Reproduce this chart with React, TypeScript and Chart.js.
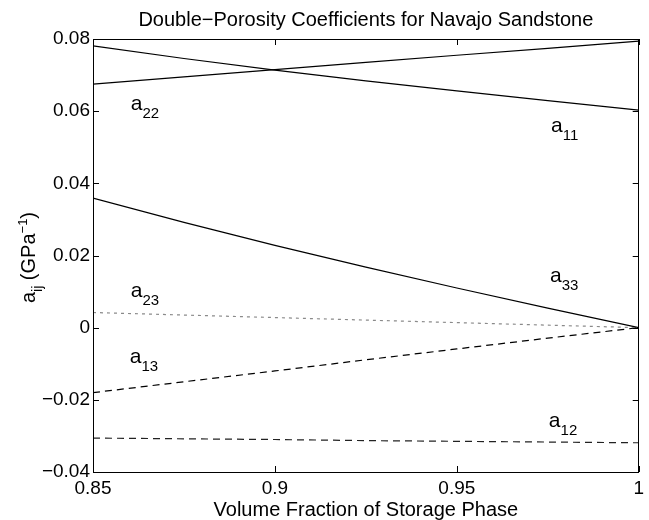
import React, { useEffect, useRef } from "react";
import { Chart, registerables } from "chart.js";

Chart.register(...registerables);

const FONT = "'Liberation Sans', Arial, Helvetica, sans-serif";

// ---- data ----
const xValues = [0.85, 0.875, 0.9, 0.925, 0.95, 0.975, 1.0];
const a11 = [0.0781, 0.0746, 0.0714, 0.0684, 0.0656, 0.0629, 0.0603];
const a22 = [0.0675, 0.0695, 0.0715, 0.0735, 0.0755, 0.0774, 0.0794];
const a33 = [0.0359, 0.0292, 0.0228, 0.0168, 0.011, 0.0054, 0.0];
const a23 = [0.0042, 0.0035, 0.0028, 0.0021, 0.0014, 0.0007, 0.0];
const a13 = [-0.018, -0.015, -0.012, -0.0089, -0.0059, -0.0029, 0.0];
const a12 = [-0.0306, -0.0308, -0.031, -0.0313, -0.0315, -0.0317, -0.0319];

const xTicks = [0.85, 0.9, 0.95, 1];
const xTickLabels = ["0.85", "0.9", "0.95", "1"];
const yTicks = [-0.04, -0.02, 0, 0.02, 0.04, 0.06, 0.08];
const yTickLabels = ["\u22120.04", "\u22120.02", "0", "0.02", "0.04", "0.06", "0.08"];

const titleText = "Double\u2212Porosity Coefficients for Navajo Sandstone";
const xTitleText = "Volume Fraction of Storage Phase";

// curve labels: subscript and anchor in data coordinates
const labelSubs = ["22", "11", "23", "33", "13", "12"];
const labelX = [0.8604, 0.9759, 0.8604, 0.9756, 0.8601, 0.9753];
const labelY = [0.0603, 0.0542, 0.0085, 0.0127, -0.0098, -0.0275];

type Seg = { t: string; size: number; dy: number };

function drawRich(ctx: CanvasRenderingContext2D, segs: Seg[], x: number, y: number, center: boolean) {
  const widths = segs.map((s) => {
    ctx.font = `${s.size}px ${FONT}`;
    return ctx.measureText(s.t).width;
  });
  const total = widths.reduce((a, b) => a + b, 0);
  let cx = center ? x - total / 2 : x;
  segs.forEach((s, i) => {
    ctx.font = `${s.size}px ${FONT}`;
    ctx.fillText(s.t, cx, y + s.dy);
    cx += widths[i];
  });
}

const decorPlugin = {
  id: "decor",
  afterDraw(chart: any) {
    const ctx: CanvasRenderingContext2D = chart.ctx;
    const { left, right, top, bottom } = chart.chartArea;
    const xs = chart.scales.x;
    const ys = chart.scales.y;
    ctx.save();
    ctx.strokeStyle = "#000";
    ctx.lineWidth = 1;
    ctx.strokeRect(Math.round(left) + 0.5, Math.round(top) + 0.5, Math.round(right - left) - 1, Math.round(bottom - top));
    const tl = 6;
    ctx.beginPath();
    xTicks.forEach((v) => {
      const px = Math.round(xs.getPixelForValue(v)) + 0.5;
      ctx.moveTo(px, bottom);
      ctx.lineTo(px, bottom - tl);
      ctx.moveTo(px, top);
      ctx.lineTo(px, top + tl);
    });
    yTicks.forEach((v) => {
      const py = Math.round(ys.getPixelForValue(v)) + 0.5;
      ctx.moveTo(left, py);
      ctx.lineTo(left + tl, py);
      ctx.moveTo(right, py);
      ctx.lineTo(right - tl, py);
    });
    ctx.stroke();

    ctx.fillStyle = "#000";
    ctx.textBaseline = "alphabetic";
    ctx.textAlign = "left";
    // chart title
    drawRich(ctx, [{ t: titleText, size: 20, dy: 0 }], (left + right) / 2, 26, true);

    // y-axis title
    ctx.save();
    ctx.translate(35, (top + bottom) / 2 + 2);
    ctx.rotate(-Math.PI / 2);
    drawRich(
      ctx,
      [
        { t: "a", size: 20, dy: 0 },
        { t: "ij", size: 14, dy: 7 },
        { t: " (GPa", size: 20, dy: 0 },
        { t: "\u22121", size: 13, dy: -8 },
        { t: ")", size: 20, dy: 0 },
      ],
      0,
      0,
      true
    );
    ctx.restore();

    // curve labels
    labelSubs.forEach((sub, i) => {
      const px = xs.getPixelForValue(labelX[i]);
      const py = ys.getPixelForValue(labelY[i]);
      drawRich(
        ctx,
        [
          { t: "a", size: 21, dy: 0 },
          { t: sub, size: 15, dy: 8 },
        ],
        px,
        py,
        false
      );
    });
    ctx.restore();
  },
};

function series(vals: number[]) {
  return xValues.map((x, i) => ({ x, y: vals[i] }));
}

export default function App() {
  const ref = useRef<HTMLCanvasElement | null>(null);
  useEffect(() => {
    if (!ref.current) return;
    const base = { pointRadius: 0, borderWidth: 1.2, fill: false, tension: 0 };
    const chart = new Chart(ref.current, {
      type: "line",
      data: {
        datasets: [
          { ...base, label: "a11", data: series(a11), borderColor: "#000" },
          { ...base, label: "a22", data: series(a22), borderColor: "#000" },
          { ...base, label: "a33", data: series(a33), borderColor: "#000" },
          { ...base, label: "a23", data: series(a23), borderColor: "#8a8a8a", borderDash: [3, 4] },
          { ...base, label: "a13", data: series(a13), borderColor: "#000", borderDash: [7, 5] },
          { ...base, label: "a12", data: series(a12), borderColor: "#222", borderDash: [7, 5] },
        ] as any,
      },
      options: {
        responsive: false,
        animation: false,
        devicePixelRatio: 1,
        layout: { padding: { top: 39, right: 9, left: 0, bottom: 0 } },
        plugins: { legend: { display: false }, tooltip: { enabled: false }, title: { display: false } },
        scales: {
          x: {
            type: "linear",
            min: 0.85,
            max: 1,
            grid: { display: false, drawTicks: false },
            border: { display: false },
            afterBuildTicks: (s: any) => {
              s.ticks = xTicks.map((value) => ({ value }));
            },
            afterFit: (s: any) => {
              s.height = 48;
            },
            ticks: {
              autoSkip: false,
              maxRotation: 0,
              padding: 5,
              color: "#000",
              font: { family: FONT, size: 19 },
              callback: (_v: any, i: number) => xTickLabels[i],
            },
            title: {
              display: true,
              text: xTitleText,
              color: "#000",
              font: { family: FONT, size: 20, lineHeight: 1 },
              padding: 0,
            },
          },
          y: {
            type: "linear",
            min: -0.04,
            max: 0.08,
            grid: { display: false, drawTicks: false },
            border: { display: false },
            afterBuildTicks: (s: any) => {
              s.ticks = yTicks.map((value) => ({ value }));
            },
            afterFit: (s: any) => {
              s.width = 93;
            },
            ticks: {
              autoSkip: false,
              padding: 3,
              color: "#000",
              font: { family: FONT, size: 19 },
              callback: (_v: any, i: number) => yTickLabels[i],
            },
          },
        },
      } as any,
      plugins: [decorPlugin],
    });
    return () => chart.destroy();
  }, []);
  return (
    <div style={{ position: "absolute", left: 0, top: 0, width: 649, height: 520, background: "#fff" }}>
      <canvas ref={ref} width={649} height={520} style={{ display: "block" }} />
    </div>
  );
}
